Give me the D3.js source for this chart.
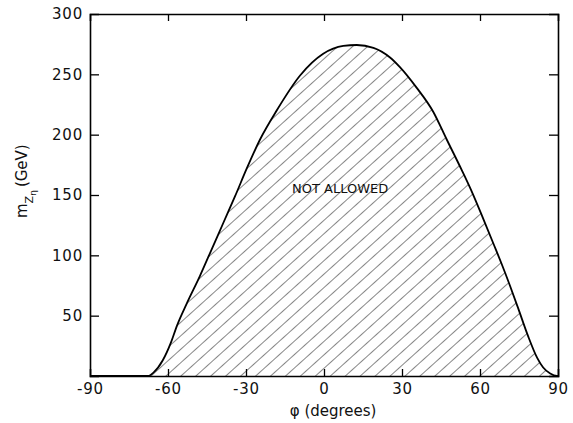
<!DOCTYPE html>
<html>
<head>
<meta charset="utf-8">
<script src="https://cdnjs.cloudflare.com/ajax/libs/d3/7.8.5/d3.min.js"></script>
<style>
  body { margin: 0; background: #fff; }
  text { font-family: "DejaVu Sans", sans-serif; fill: #111; }
</style>
</head>
<body>
<div id="chart"></div>
<script>
// boundary of the excluded region
var phi = [-90, -67.7, -65.5, -62, -59, -56.5, -52.8, -47.7, -43.2, -38.7, -34.2, -29.7, -24.6, -18.2,
           -9.2, -0.3, 7.4, 12.6, 19, 25.4, 29.2, 35.6, 42, 47.2, 52.9, 56.8, 61.3, 65.1,
           68.3, 71.5, 74.7, 78.5, 82, 84.3, 87, 89.6, 90];
var mass = [0, 0, 3, 13, 27, 42, 60, 83, 105, 127, 149, 172, 196, 220,
            249, 267, 273.5, 274.3, 272, 264, 256, 239, 219, 196, 171, 153, 130, 110,
            93, 75, 56, 33, 15, 7, 2, 0, 0];
var xTicks = [-90, -60, -30, 0, 30, 60, 90];
var yTicks = [50, 100, 150, 200, 250, 300];

var W = 573, H = 423;
var x = d3.scaleLinear().domain([-90, 90]).range([90, 558]);
var y = d3.scaleLinear().domain([0, 300]).range([376, 14]);

var svg = d3.select("#chart").append("svg")
    .attr("width", W)
    .attr("height", H);

// hatching pattern
var defs = svg.append("defs");
defs.append("pattern")
    .attr("id", "hatch")
    .attr("patternUnits", "userSpaceOnUse")
    .attr("width", 10)
    .attr("height", 10)
    .attr("patternTransform", "rotate(48)")
    .append("line")
    .attr("x1", 0).attr("y1", 0)
    .attr("x2", 0).attr("y2", 10)
    .attr("stroke", "#222")
    .attr("stroke-width", 1.1);

var pts = phi.map(function (d, i) { return [d, mass[i]]; });

var area = d3.area()
    .x(function (d) { return x(d[0]); })
    .y0(y(0))
    .y1(function (d) { return y(d[1]); })
    .curve(d3.curveMonotoneX);

var line = d3.line()
    .x(function (d) { return x(d[0]); })
    .y(function (d) { return y(d[1]); })
    .curve(d3.curveMonotoneX);

svg.append("path")
    .datum(pts)
    .attr("d", area)
    .attr("fill", "url(#hatch)");

svg.append("path")
    .datum(pts)
    .attr("d", line)
    .attr("fill", "none")
    .attr("stroke", "#000")
    .attr("stroke-width", 1.8);

// axes, ticks pointing inward on all four sides
var axBottom = svg.append("g")
    .attr("transform", "translate(0," + y(0) + ")")
    .call(d3.axisBottom(x).tickValues(xTicks).tickSize(-7).tickPadding(7)
        .tickFormat(function (d) { return d < 0 ? "-" + Math.abs(d) : d; }));
var axTop = svg.append("g")
    .attr("transform", "translate(0," + y(300) + ")")
    .call(d3.axisTop(x).tickValues(xTicks).tickSize(-7).tickFormat(""));
var axLeft = svg.append("g")
    .attr("transform", "translate(" + x(-90) + ",0)")
    .call(d3.axisLeft(y).tickValues(yTicks).tickSize(-9).tickPadding(7));
var axRight = svg.append("g")
    .attr("transform", "translate(" + x(90) + ",0)")
    .call(d3.axisRight(y).tickValues(yTicks).tickSize(-9).tickFormat(""));

[axBottom, axTop, axLeft, axRight].forEach(function (g) {
    g.select(".domain").attr("stroke", "#000").attr("stroke-width", 1.6);
    g.selectAll(".tick line").attr("stroke", "#000").attr("stroke-width", 1.3);
    g.selectAll(".tick text").style("font-size", "15px").style("letter-spacing", "0.8px").attr("fill", "#111");
});
// drop end ticks that sit on the frame corners
axBottom.selectAll(".tick line").filter(function (d) { return d === -90 || d === 90; }).remove();
axTop.selectAll(".tick line").filter(function (d) { return d === -90 || d === 90; }).remove();
axLeft.selectAll(".tick line").filter(function (d) { return d === 300; }).remove();
axRight.selectAll(".tick line").filter(function (d) { return d === 300; }).remove();

// region label
svg.append("text")
    .attr("x", x(6.2))
    .attr("y", y(151.5))
    .attr("text-anchor", "middle")
    .style("font-size", "13px")
    .text("NOT ALLOWED");

// x axis title
svg.append("text")
    .attr("x", x(3.5))
    .attr("y", 416)
    .attr("text-anchor", "middle")
    .style("font-size", "15px")
    .text("\u03c6 (degrees)");

// y axis title with nested subscripts, rotated inside a group
var ylg = svg.append("g")
    .attr("transform", "translate(27,218) rotate(-90)");
var yl = ylg.append("text")
    .attr("x", 0)
    .attr("y", 0)
    .attr("text-anchor", "start")
    .style("font-size", "15px");
yl.append("tspan").text("m");
yl.append("tspan").attr("dy", 6).style("font-size", "11px").text("Z");
yl.append("tspan").attr("dy", 3).style("font-size", "9px").text("\u03b7");
yl.append("tspan").attr("dy", -9).attr("dx", 3).style("font-size", "15px").text("(GeV)");
</script>
</body>
</html>
